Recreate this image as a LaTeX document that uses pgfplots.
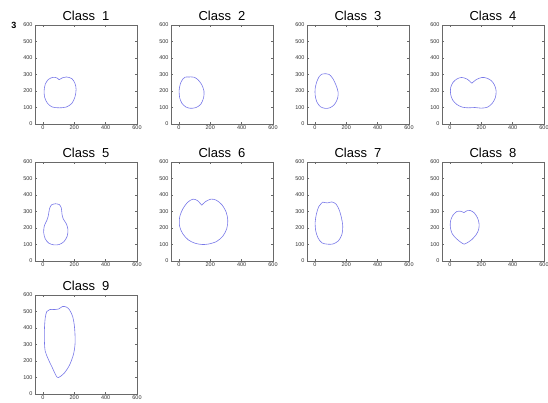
\documentclass[border=0pt]{standalone}
\usepackage{fontspec}
\setmainfont{Liberation Sans}
\usepackage{pgfplots}
\pgfplotsset{compat=1.18}
\definecolor{shapecol}{RGB}{120,120,232}
\definecolor{frame}{RGB}{105,105,105}
\pgfplotsset{
  cls/.style={
    scale only axis, width=102pt, height=99pt, anchor=south west,
    xmin=-50, xmax=600, ymin=0, ymax=600,
    xtick={0,200,400,600}, ytick={0,100,...,600},
    tick align=inside, major tick length=2pt,
    axis line style={frame, line width=0.5pt},
    every tick/.style={frame, line width=0.4pt},
    tick label style={font=\fontsize{5.5}{6}\selectfont, text=black!80},
    xticklabel style={yshift=1.5pt}, yticklabel style={xshift=1pt},
    /pgf/number format/assume math mode=true,
    scaled ticks=false,
    title style={font=\fontsize{13}{14}\selectfont, yshift=-5pt},
  },
  shp/.style={color=shapecol, line width=0.6pt, smooth, mark=none},
}
\begin{document}
\begin{tikzpicture}[x=1pt,y=1pt]
\useasboundingbox (0,0) rectangle (548,403);
\node[font=\bfseries\fontsize{9}{9}\selectfont] at (14,378) {3};
% Class 1
\begin{axis}[cls, at={(35pt,279pt)}, title={Class\ \ 1}]
\addplot[shp] coordinates {(104,268) (125,280) (150,285) (185,275) (205,245) (212,210) (205,165) (185,125) (150,103) (105,98) (60,103) (30,125) (12,160) (8,200) (15,240) (35,270) (65,283) (90,279) (104,268)};
\end{axis}
% Class 2
\begin{axis}[cls, at={(171pt,279pt)}, title={Class\ \ 2}]
\addplot[shp] coordinates {(65,285) (95,284) (120,270) (145,240) (160,200) (158,160) (140,120) (110,100) (75,95) (45,103) (20,125) (5,160) (2,205) (10,245) (25,272) (40,284) (65,285)};
\end{axis}
% Class 3
\begin{axis}[cls, at={(307pt,279pt)}, title={Class\ \ 3}]
\addplot[shp] coordinates {(45,302) (70,305) (92,300) (115,275) (135,235) (148,195) (145,155) (125,118) (95,98) (65,95) (35,105) (12,135) (2,175) (2,215) (12,255) (28,288) (45,302)};
\end{axis}
% Class 4
\begin{axis}[cls, at={(442pt,279pt)}, title={Class\ \ 4}]
\addplot[shp] coordinates {(140,247) (170,270) (205,282) (235,278) (265,262) (285,235) (295,200) (290,160) (270,125) (240,102) (200,96) (160,100) (120,98) (80,102) (45,118) (18,145) (5,180) (5,220) (20,252) (45,273) (75,282) (110,272) (140,247)};
\end{axis}
% Class 5
\begin{axis}[cls, at={(35pt,142pt)}, title={Class\ \ 5}]
\addplot[shp] coordinates {(80,347) (105,342) (118,320) (122,285) (130,255) (150,225) (160,190) (155,150) (135,118) (105,100) (70,98) (38,108) (15,135) (5,175) (10,215) (25,245) (35,275) (42,315) (55,340) (80,347)};
\end{axis}
% Class 6
\begin{axis}[cls, at={(171pt,142pt)}, title={Class\ \ 6}]
\addplot[shp] coordinates {(146,338) (170,360) (205,375) (240,368) (275,340) (302,295) (312,245) (305,195) (280,150) (240,118) (190,103) (150,100) (105,107) (60,128) (25,165) (5,210) (5,265) (25,315) (55,355) (90,375) (120,365) (146,338)};
\end{axis}
% Class 7
\begin{axis}[cls, at={(307pt,142pt)}, title={Class\ \ 7}]
\addplot[shp] coordinates {(50,357) (80,352) (108,358) (135,345) (155,310) (170,260) (178,210) (172,160) (150,122) (115,103) (80,102) (45,110) (20,140) (5,185) (2,235) (10,285) (25,330) (50,357)};
\end{axis}
% Class 8
\begin{axis}[cls, at={(442pt,142pt)}, title={Class\ \ 8}]
\addplot[shp] coordinates {(90,293) (110,305) (130,306) (155,292) (176,262) (186,228) (184,192) (168,160) (140,130) (110,110) (92,102) (72,112) (42,135) (15,165) (3,205) (5,245) (20,278) (45,300) (70,301) (90,293)};
\end{axis}
% Class 9
\begin{axis}[cls, at={(35pt,9pt)}, title={Class\ \ 9}]
\addplot[shp] coordinates {(70,512) (100,515) (125,530) (150,527) (170,510) (190,470) (200,420) (205,360) (205,300) (195,240) (170,175) (135,125) (100,100) (85,110) (60,160) (35,210) (15,260) (10,320) (10,390) (15,460) (25,500) (45,512) (70,512)};
\end{axis}
\end{tikzpicture}
\end{document}
